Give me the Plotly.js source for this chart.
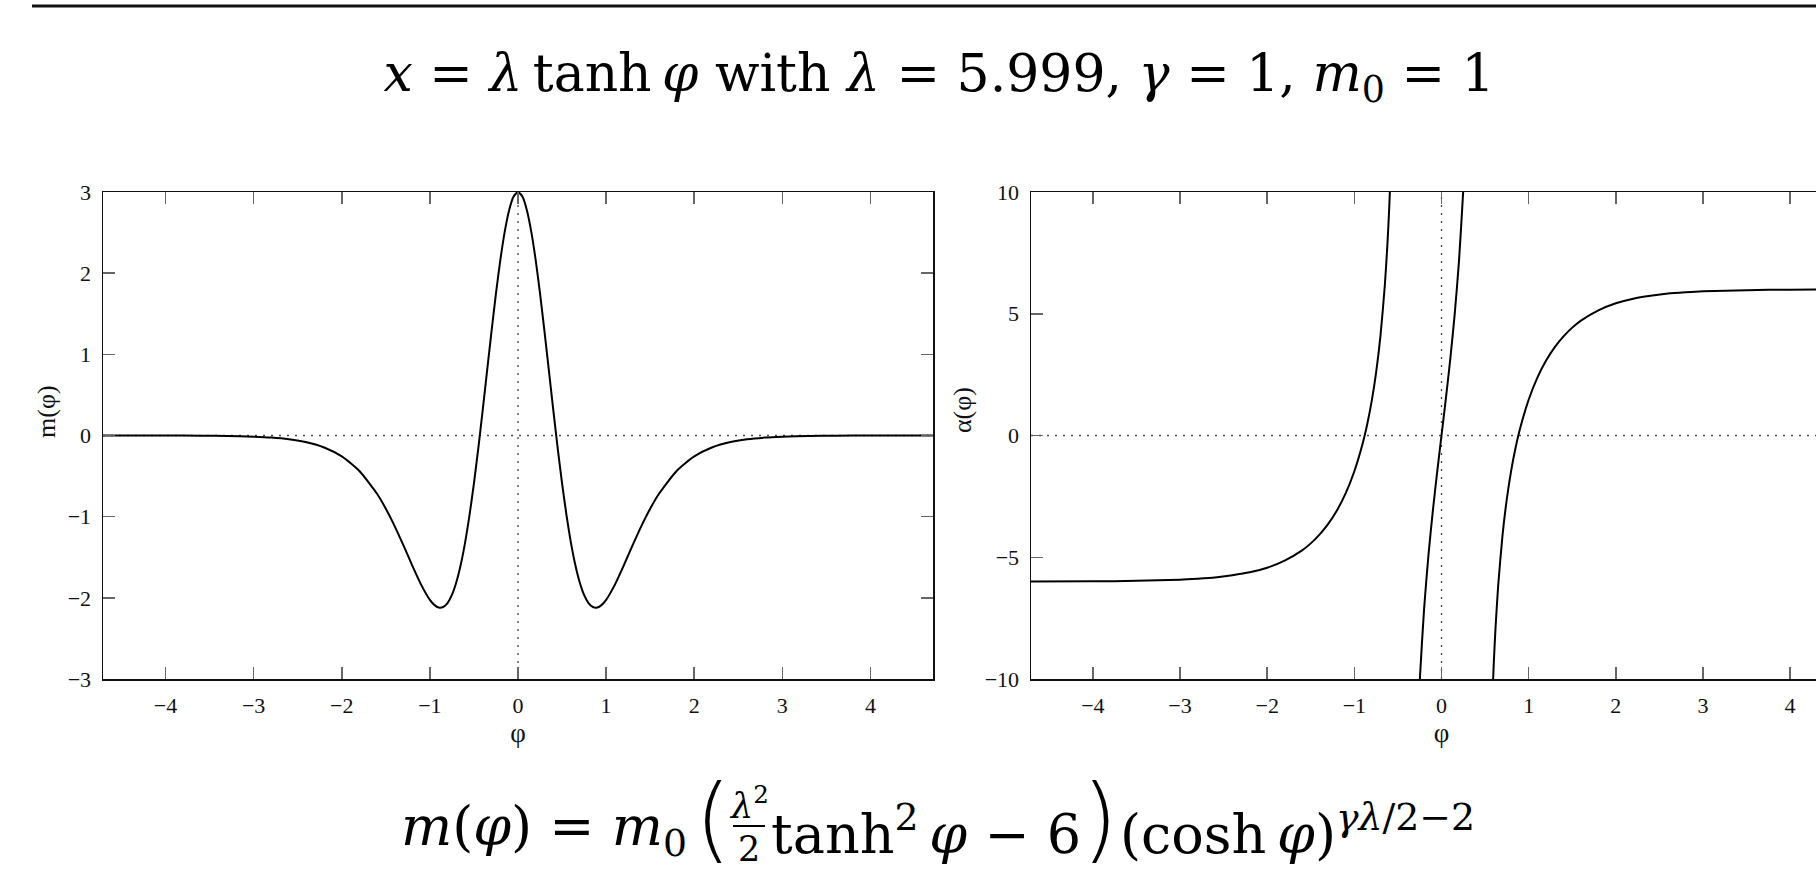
<!DOCTYPE html>
<html><head><meta charset="utf-8">
<script src="https://cdn.plot.ly/plotly-3.0.1.min.js"></script>
<style>html,body{margin:0;padding:0;overflow:hidden;background:#fff;width:1816px;height:876px}#chart{width:1870px;height:876px}</style>
</head><body><div id="chart"></div><script>
// ---- data ----
const phiM = [-4.71,-4.0,-3.6,-3.3,-3.0,-2.8,-2.6,-2.4,-2.2,-2.0,-1.8,-1.6,-1.5,-1.4,-1.3,-1.2,-1.1,-1.0,-0.95,-0.9,-0.85,-0.8,-0.75,-0.7,-0.65,-0.6,-0.55,-0.5,-0.45,-0.4,-0.35,-0.3,-0.25,-0.2,-0.15,-0.1,-0.05,0,
  0.05,0.1,0.15,0.2,0.25,0.3,0.35,0.4,0.45,0.5,0.55,0.6,0.65,0.7,0.75,0.8,0.85,0.9,0.95,1.0,1.1,1.2,1.3,1.4,1.5,1.6,1.8,2.0,2.2,2.4,2.6,2.8,3.0,3.3,3.6,4.0,4.71];
const mVals = [0.000,-0.001,-0.002,-0.006,-0.015,-0.026,-0.047,-0.084,-0.148,-0.258,-0.438,-0.718,-0.902,-1.116,-1.354,-1.602,-1.837,-2.025,-2.087,-2.119,-2.113,-2.064,-1.964,-1.808,-1.592,-1.316,-0.979,-0.589,-0.152,0.318,0.805,1.289,1.750,2.166,2.515,2.779,2.944,3.000,
  2.944,2.779,2.515,2.166,1.750,1.289,0.805,0.318,-0.152,-0.589,-0.979,-1.316,-1.592,-1.808,-1.964,-2.064,-2.113,-2.119,-2.087,-2.025,-1.837,-1.602,-1.354,-1.116,-0.902,-0.718,-0.438,-0.258,-0.148,-0.084,-0.047,-0.026,-0.015,-0.006,-0.002,-0.001,0.000];

const phiAlphaLeft = [-4.71,-4.0,-3.5,-3.0,-2.8,-2.6,-2.4,-2.2,-2.0,-1.8,-1.6,-1.5,-1.4,-1.3,-1.2,-1.1,-1.0,-0.9,-0.85,-0.8,-0.75,-0.7,-0.65,-0.62,-0.6,-0.58];
const alphaLeft    = [-6.00,-5.99,-5.97,-5.92,-5.88,-5.83,-5.74,-5.62,-5.43,-5.14,-4.72,-4.43,-4.07,-3.63,-3.08,-2.38,-1.47,-0.27,0.50,1.43,2.59,4.10,6.18,7.89,9.33,11.13];
const phiAlphaMid  = [-0.26,-0.25,-0.2,-0.15,-0.1,-0.05,0,0.05,0.1,0.15,0.2,0.25,0.26];
const alphaMid     = [-10.85,-10.10,-7.13,-4.92,-3.12,-1.51,0,1.51,3.12,4.92,7.13,10.10,10.85];
const phiAlphaRight= [0.58,0.6,0.62,0.65,0.7,0.75,0.8,0.85,0.9,1.0,1.1,1.2,1.3,1.4,1.5,1.6,1.8,2.0,2.2,2.4,2.6,2.8,3.0,3.5,4.0,4.71];
const alphaRight   = [-11.13,-9.33,-7.89,-6.18,-4.10,-2.59,-1.43,-0.50,0.27,1.47,2.38,3.08,3.63,4.07,4.43,4.72,5.14,5.43,5.62,5.74,5.83,5.88,5.92,5.97,5.99,6.00];

const xTicks = [-4,-3,-2,-1,0,1,2,3,4];
const mTicks = [-3,-2,-1,0,1,2,3];
const alphaTicks = [-10,-5,0,5,10];
const phiRange = [-4.71, 4.71];
const mRange = [-3, 3];
const alphaRange = [-10, 10];

// ---- layout ----
const W = 1870, H = 876;
const fx = p => p / W, fy = p => 1 - p / H;
const serif = '"Liberation Serif", "Times New Roman", serif';
const mathFont = '"DejaVu Serif", serif';

const curve = {color:'#000', width:2, shape:'spline', smoothing:0.6};
const traces = [
  {x: phiM, y: mVals, xaxis:'x', yaxis:'y', mode:'lines', line: curve, hoverinfo:'skip', showlegend:false},
  {x: phiAlphaLeft, y: alphaLeft, xaxis:'x2', yaxis:'y2', mode:'lines', line: curve, hoverinfo:'skip', showlegend:false},
  {x: phiAlphaMid, y: alphaMid, xaxis:'x2', yaxis:'y2', mode:'lines', line: curve, hoverinfo:'skip', showlegend:false},
  {x: phiAlphaRight, y: alphaRight, xaxis:'x2', yaxis:'y2', mode:'lines', line: curve, hoverinfo:'skip', showlegend:false}
];

const axBase = {showline:true, linecolor:'#111', linewidth:1.5, mirror:'ticks', ticks:'inside', ticklen:12, tickwidth:1.5, tickcolor:'#666',
  showgrid:false, zeroline:false, tickfont:{family:serif, size:22, color:'#111'}, fixedrange:true, ticklabelstandoff:6};

const plotTop = 192, plotBot = 679;
const dotted = {color:'#444', width:1.3, dash:'2px,6px'};
const mathAnn = (text, x, y, size, extra) => Object.assign({text, x: fx(x), y: fy(y), xref:'paper', yref:'paper', showarrow:false,
  font:{family: mathFont, size, color:'#000'}, xanchor:'center', yanchor:'middle'}, extra || {});
const parenFont = {family:'"DejaVu Sans"', size:92, color:'#000', weight:200};

const layout = {
  width: W, height: H, margin:{l:0,r:0,t:0,b:0}, paper_bgcolor:'#fff', plot_bgcolor:'#fff', showlegend:false,
  title: {text:'<i>x</i> = <i>λ</i>\u2009tanh\u2009<i>φ</i> with <i>λ</i> = 5.999, <i>γ</i> = 1, <i>m</i><sub>0</sub> = 1',
    font:{family: mathFont, size:52, color:'#000'}, x: fx(939), xref:'paper', xanchor:'center', y: 1 - 73/H, yref:'container', yanchor:'middle'},
  xaxis: Object.assign({}, axBase, {domain:[fx(103), fx(933)], range: phiRange, tickvals: xTicks, anchor:'y',
    title:{text:'φ', font:{family:serif, size:27, color:'#111'}, standoff:4}}),
  yaxis: Object.assign({}, axBase, {domain:[fy(plotBot), fy(plotTop)], range: mRange, tickvals: mTicks, anchor:'x'}),
  xaxis2: Object.assign({}, axBase, {domain:[fx(1031), fx(1852)], range: phiRange, tickvals: xTicks, anchor:'y2',
    title:{text:'φ', font:{family:serif, size:27, color:'#111'}, standoff:4}}),
  yaxis2: Object.assign({}, axBase, {domain:[fy(plotBot), fy(plotTop)], range: alphaRange, tickvals: alphaTicks, anchor:'x2'}),
  shapes: [
    {type:'line', xref:'paper', yref:'paper', x0: fx(32), x1: 1, y0: fy(6), y1: fy(6), line:{color:'#111', width:3}},
    {type:'line', xref:'x', yref:'y', x0: phiRange[0], x1: phiRange[1], y0:0, y1:0, line: dotted, layer:'below'},
    {type:'line', xref:'x', yref:'y', x0:0, x1:0, y0: mRange[0], y1: mRange[1], line: dotted, layer:'below'},
    {type:'line', xref:'x2', yref:'y2', x0: phiRange[0], x1: phiRange[1], y0:0, y1:0, line: dotted, layer:'below'},
    {type:'line', xref:'x2', yref:'y2', x0:0, x1:0, y0: alphaRange[0], y1: alphaRange[1], line: dotted, layer:'below'},
    // fraction bar in the bottom formula
    {type:'line', xref:'paper', yref:'paper', x0: fx(733), x1: fx(765), y0: fy(826), y1: fy(826), line:{color:'#000', width:2}}
  ],
  annotations: [
    {text:'m(φ)', x: fx(46), y: fy(412), xref:'paper', yref:'paper', textangle:-90, showarrow:false, font:{family:serif, size:26, color:'#111'}, xanchor:'center', yanchor:'middle'},
    {text:'α(φ)', x: fx(963), y: fy(410), xref:'paper', yref:'paper', textangle:-90, showarrow:false, font:{family:serif, size:26, color:'#111'}, xanchor:'center', yanchor:'middle'},
    mathAnn('<i>m</i>(<i>φ</i>) = <i>m</i><sub>0</sub>', 544, 830, 54),
    mathAnn('(', 713, 819, 92, {font: parenFont}),
    mathAnn('<i>λ</i><sup>2</sup>', 749, 803, 35),
    mathAnn('2', 749, 849, 35),
    mathAnn('tanh<sup>2</sup>\u2009<i>φ</i> − 6', 926, 830, 54),
    mathAnn(')', 1100, 819, 92, {font: parenFont}),
    mathAnn('(cosh\u2009<i>φ</i>)<sup><i>γλ</i>/2−2</sup>', 1297, 830, 54)
  ]
};

Plotly.newPlot('chart', traces, layout, {displayModeBar:false, staticPlot:true});
</script></body></html>
